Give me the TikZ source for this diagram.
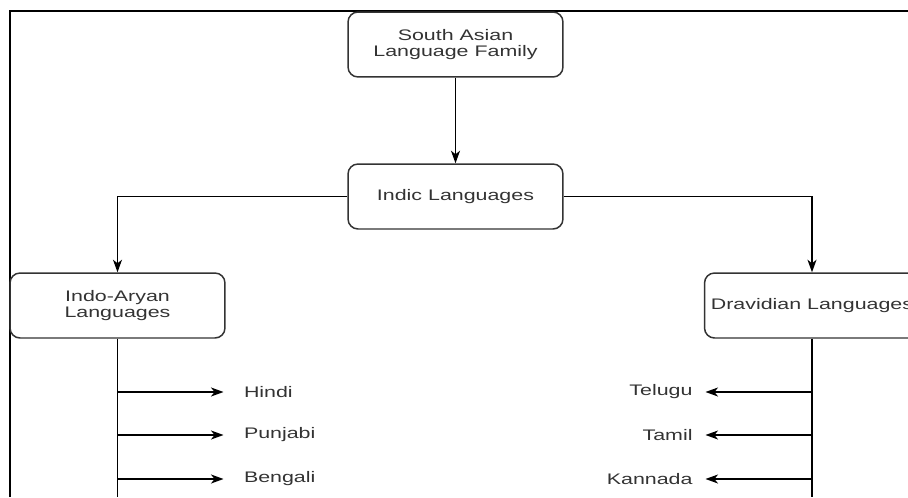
\documentclass[tikz,border=0pt]{standalone}
\usepackage{fontspec}
\setmainfont[FakeStretch=1.4]{Liberation Sans}
\usetikzlibrary{arrows.meta}

\begin{document}
\begin{tikzpicture}[x=0.02cm, y=-0.02cm,
    every node/.style={font=\fontsize{8.7}{9.2}\selectfont, text=black!80},
    family/.style={draw=black!80, line width=0.85pt, rounded corners=0.2cm,
        minimum width=4.3cm, minimum height=1.3cm, align=center, inner sep=2pt},
    link/.style={draw=black, line width=0.75pt},
    arr/.style={link, -{Stealth[length=0.25cm, width=0.18cm, inset=0.07cm]}},
    leafL/.style={inner sep=0pt, outer xsep=0.41cm, anchor=west},
    leafR/.style={inner sep=0pt, outer xsep=0.26cm, anchor=east}
]
\useasboundingbox (0,0) rectangle (908,497);
\draw[black, line width=0.75pt] (10,497) -- (10,11) -- (908,11);

\node[family] (sa)  at (455.5, 44.5) {South Asian\\Language Family};
\node[family] (ind) at (455.5,196.5) {Indic Languages};
\node[family] (ia)  at (117.5,305.5) {Indo-Aryan\\Languages};
\node[family] (dr)  at (812.0,305.5) {Dravidian Languages};

\draw[arr] (sa) -- (ind);
\draw[arr] (ind.west) -| (ia.north);
\draw[arr] (ind.east) -| (dr.north);

\coordinate (iaend) at (ia.south |- 0,497);
\coordinate (drend) at (dr.south |- 0,497);
\draw[link] (ia.south) -- (iaend);
\draw[link] (dr.south) -- (drend);

\node[leafL] (hindi)   at (223.5,392) {Hindi};
\node[leafL] (punjabi) at (223.5,435) {Punjabi};
\node[leafL] (bengali) at (223.5,479) {Bengali};
\node[leafR] (telugu)  at (705.5,392) {Telugu};
\node[leafR] (tamil)   at (705.5,435) {Tamil};
\node[leafR] (kannada) at (705.5,479) {Kannada};

\foreach \leaf in {hindi, punjabi, bengali}
    \draw[arr] (ia.south |- \leaf.west) -- (\leaf.west);
\foreach \leaf in {telugu, tamil, kannada}
    \draw[arr] (dr.south |- \leaf.east) -- (\leaf.east);
\end{tikzpicture}
\end{document}
